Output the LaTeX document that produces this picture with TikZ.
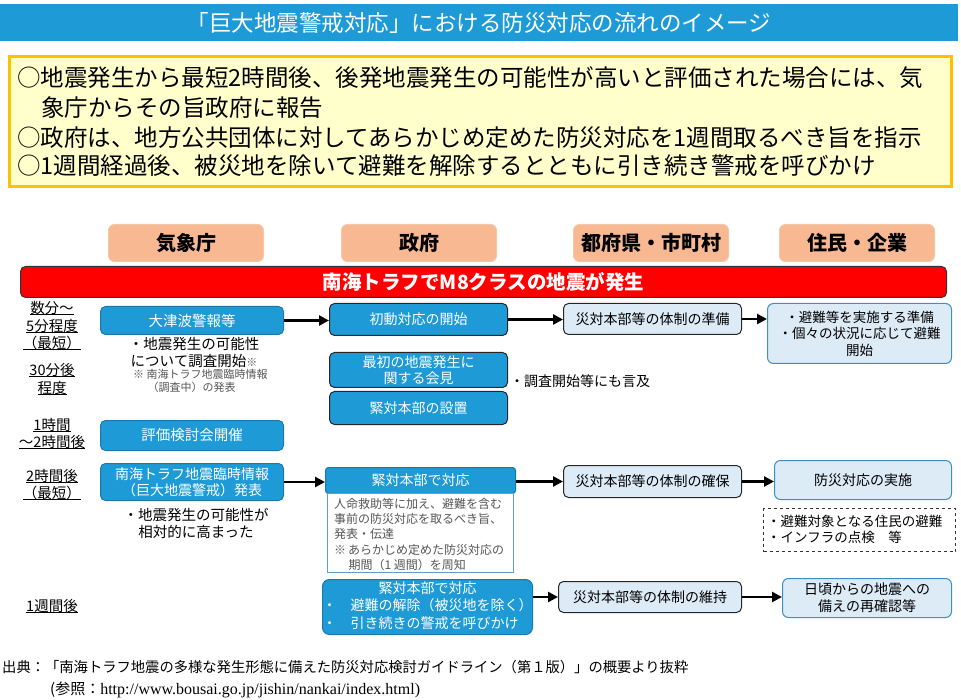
\documentclass[tikz,border=0pt]{standalone}
\usepackage{fontspec}
\setmainfont{Noto Sans CJK JP}
\newfontfamily\urlfont{Liberation Serif}
\usetikzlibrary{arrows.meta}
\definecolor{titleblue}{HTML}{1E9BD7}
\definecolor{boxblue}{HTML}{1E9AD6}
\definecolor{boxedge}{HTML}{1A78AE}
\definecolor{lightblue}{HTML}{DDEBF7}
\definecolor{rightedge}{HTML}{3D8FC4}
\definecolor{salmon}{HTML}{F8B892}
\definecolor{salmonedge}{HTML}{F4C7A8}
\definecolor{yellowfill}{HTML}{FFFFCC}
\definecolor{yellowedge}{HTML}{FFC000}
\definecolor{graytext}{HTML}{555555}
\newcommand\fsz[2]{\fontsize{#1}{#2}\selectfont}
\begin{document}
\begin{tikzpicture}[x=1pt,y=-1pt,
  base/.style={anchor=north west, inner sep=0pt, align=center},
  hdr/.style={base, rounded corners=6pt, fill=salmon, draw=salmonedge, line width=1pt,
    minimum width=155pt, minimum height=37pt, font=\fsz{20}{24}\bfseries},
  bluebox/.style={base, rounded corners=5pt, fill=boxblue, draw=boxedge, line width=1pt,
    text=white, font=\fsz{14.5}{17.5}},
  darkbox/.style={bluebox, draw=black!85},
  lbbox/.style={base, rounded corners=5pt, fill=lightblue, draw=black!85, line width=1pt,
    font=\fsz{14}{17}},
  rbbox/.style={base, rounded corners=6pt, fill=lightblue, draw=rightedge, line width=1pt,
    font=\fsz{13.5}{16.5}},
  timelbl/.style={inner sep=0pt, outer sep=0pt, font=\fsz{14.5}{17.5}},
  ulline/.style={draw=black, line width=1.1pt},
  note/.style={inner sep=0pt, font=\fsz{14.5}{17}},
  arr/.style={line width=2.5pt, -{Triangle[length=10pt,width=10pt]}},
  yline/.style={anchor=west, inner sep=0pt, font=\fsz{23.5}{28}}
]
\useasboundingbox (0,0) rectangle (961,700);

% title
\node[base, fill=titleblue, minimum width=958pt, minimum height=37pt, text=white,
  font=\fsz{22.5}{26}] (title) at (0,4) {「巨大地震警戒対応」における防災対応の流れのイメージ};

% summary box
\node[base, fill=yellowfill, draw=yellowedge, line width=3pt, minimum width=942pt,
  minimum height=130pt] (summary) at (8,55) {};
\node[yline] (s1) at (17,78) {○地震発生から最短2時間後、後発地震発生の可能性が高いと評価された場合には、気};
\node[yline] (s2) at (41,108) {象庁からその旨政府に報告};
\node[yline] (s3) at (17,138) {○政府は、地方公共団体に対してあらかじめ定めた防災対応を1週間取るべき旨を指示};
\node[yline] (s4) at (17,166) {○1週間経過後、被災地を除いて避難を解除するとともに引き続き警戒を呼びかけ};

% headers
\node[hdr] (h1) at (108,224) {気象庁};
\node[hdr] (h2) at (341,224) {政府};
\node[hdr] (h3) at (573,224) {都府県・市町村};
\node[hdr] (h4) at (779,224) {住民・企業};

% red bar
\node[base, rounded corners=5pt, fill=red, draw=black!80, line width=1pt,
  minimum width=926pt, minimum height=31pt, text=white, font=\fsz{19.5}{24}\bfseries]
  (quake) at (20,266) {南海トラフでM8クラスの地震が発生};

% time labels (underlined)
\node[timelbl] (t1a) at (52,308) {数分～};
\node[timelbl] (t1b) at (52,326) {5分程度};
\node[timelbl] (t1c) at (52,343) {（最短）};
\node[timelbl] (t2a) at (52,370) {30分後};
\node[timelbl] (t2b) at (52,388) {程度};
\node[timelbl] (t3a) at (52,425) {1時間};
\node[timelbl] (t3b) at (52,442) {～2時間後};
\node[timelbl] (t4a) at (52,476) {2時間後};
\node[timelbl] (t4b) at (52,493) {（最短）};
\node[timelbl] (t5a) at (52,606) {1週間後};
\draw[ulline] (t1a.south west) -- (t1a.south east);
\draw[ulline] (t1b.south west) -- (t1b.south east);
\draw[ulline] (t1c.south west) -- (t1c.south east);
\draw[ulline] (t2a.south west) -- (t2a.south east);
\draw[ulline] (t2b.south west) -- (t2b.south east);
\draw[ulline] (t3a.south west) -- (t3a.south east);
\draw[ulline] (t3b.south west) -- (t3b.south east);
\draw[ulline] (t4a.south west) -- (t4a.south east);
\draw[ulline] (t4b.south west) -- (t4b.south east);
\draw[ulline] (t5a.south west) -- (t5a.south east);

% JMA column
\node[bluebox, minimum width=183pt, minimum height=28pt] (jma1) at (100,306) {大津波警報等};
\node[note, align=center] (n1) at (194,353) {・地震発生の可能性\\について調査開始{\fsz{11}{12}\color{graytext}※}};
\node[inner sep=0pt, anchor=north west, align=left, text=graytext, font=\fsz{11}{13}]
  (n1b) at (133,369) {※\ 南海トラフ地震臨時情報\\\hspace*{1.3em}（調査中）の発表};
\node[bluebox, minimum width=183pt, minimum height=30pt] (jma2) at (100,420) {評価検討会開催};
\node[bluebox, minimum width=183pt, minimum height=37pt, font=\fsz{14}{16}] (jma3) at (100,463)
  {南海トラフ地震臨時情報\\（巨大地震警戒）発表};
\node[note, align=center] (n2) at (196,523) {・地震発生の可能性が\\相対的に高まった};

% government column
\node[darkbox, minimum width=178pt, minimum height=32pt, font=\fsz{14}{17}] (g1) at (329,303) {初動対応の開始};
\node[darkbox, minimum width=178pt, minimum height=35pt, font=\fsz{14}{16.5}] (g2) at (329,352) {最初の地震発生に\\関する会見};
\node[darkbox, minimum width=178pt, minimum height=33pt, font=\fsz{14}{17}] (g3) at (329,391) {緊対本部の設置};
\node[note, anchor=west, font=\fsz{14}{17}] (n3) at (510,381) {・調査開始等にも言及};
\node[bluebox, rounded corners=3pt, minimum width=190pt, minimum height=26pt, font=\fsz{14}{17}] (g4) at (325,467) {緊対本部で対応};
\node[base, draw=boxedge!70, fill=white, line width=1pt, minimum width=186pt, minimum height=79pt] (g4b) at (327,493) {};
\node[inner sep=0pt, anchor=north west, align=left, text=graytext, font=\fsz{12}{15.3}]
  (g4t) at (334,498) {人命救助等に加え、避難を含む\\事前の防災対応を取るべき旨、\\発表・伝達\\※\,あらかじめ定めた防災対応の\\\hspace*{1.2em}期間（1 週間）を周知};
\node[bluebox, rounded corners=7pt, minimum width=204pt, minimum height=55pt, font=\fsz{14}{17.5}] (g5) at (322,579)
  {\begin{tabular}{@{}l@{}}\multicolumn{1}{@{}c@{}}{緊対本部で対応}\\・\quad 避難の解除（被災地を除く）\\・\quad 引き続きの警戒を呼びかけ\end{tabular}};

% prefecture column
\node[lbbox, minimum width=178pt, minimum height=31pt] (p1) at (563,303) {災対本部等の体制の準備};
\node[lbbox, minimum width=178pt, minimum height=32pt] (p2) at (563,465) {災対本部等の体制の確保};
\node[lbbox, minimum width=183pt, minimum height=31pt] (p3) at (558,581) {災対本部等の体制の維持};

% residents column
\node[rbbox, minimum width=184pt, minimum height=60pt] (r1) at (767,303) {・避難等を実施する準備\\・個々の状況に応じて避難\\開始};
\node[rbbox, minimum width=177pt, minimum height=39pt, font=\fsz{14}{17}] (r2) at (774,460) {防災対応の実施};
\node[base, draw=black!80, dashed, line width=1pt, minimum width=192pt, minimum height=43pt] (r3) at (763,508) {};
\node[inner sep=0pt, anchor=west, align=left, font=\fsz{13.5}{16.5}] (r3t) at (767,529.5) {・避難対象となる住民の避難\\・インフラの点検\quad 等};
\node[rbbox, minimum width=169pt, minimum height=39pt, font=\fsz{14}{17}] (r4) at (782,578) {日頃からの地震への\\備えの再確認等};

% arrows
\draw[arr] (jma1.east) -- (jma1.east -| g1.west);
\draw[arr] (g1.east) -- (g1.east -| p1.west);
\draw[arr] (p1.east) -- (p1.east -| r1.west);
\draw[arr] (jma3.east) -- (jma3.east -| g4.west);
\draw[arr] (g4.east |- p2.west) -- (p2.west);
\draw[arr] (p2.east) -- (p2.east -| r2.west);
\draw[arr] (g5.east |- p3.west) -- (p3.west);
\draw[arr] (p3.east) -- (p3.east -| r4.west);

% footer
\node[inner sep=0pt, anchor=west, font=\fsz{14.3}{18}] (f1) at (2,667) {出典：「南海トラフ地震の多様な発生形態に備えた防災対応検討ガイドライン（第１版）」の概要より抜粋};
\node[inner sep=0pt, anchor=west, font=\fsz{15}{18}] (f2) at (50,690) {(参照：{\urlfont\fsz{16}{18}http://www.bousai.go.jp/jishin/nankai/index.html)}};
\end{tikzpicture}
\end{document}
